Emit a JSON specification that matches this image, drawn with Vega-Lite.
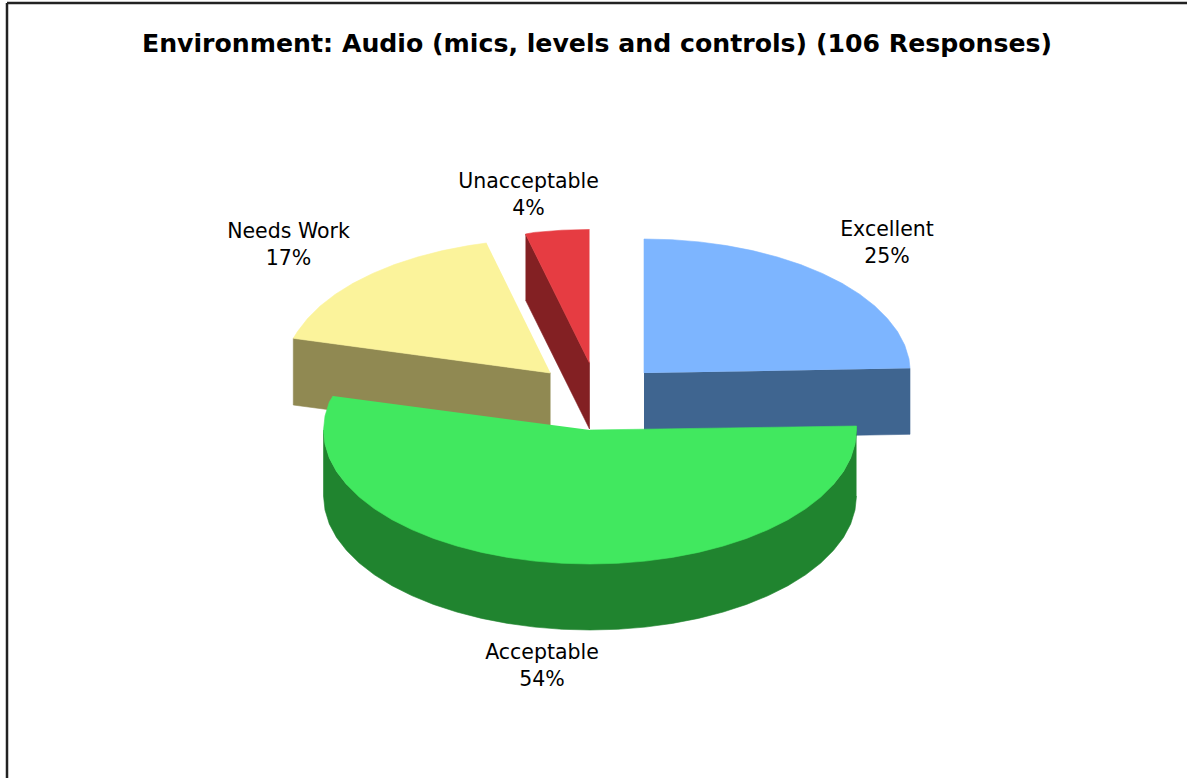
{
  "$schema": "https://vega.github.io/schema/vega-lite/v6.json",
  "width": 1187,
  "height": 778,
  "padding": 0,
  "autosize": "none",
  "background": "#ffffff",
  "view": {"stroke": null},
  "datasets": {
    "outlines": [
      {"face":"Excellent side","n":1,"x":54,"y":57},{"face":"Excellent side","n":2,"x":320,"y":61.7},{"face":"Excellent side","n":3,"x":320,"y":-4.3},{"face":"Excellent side","n":4,"x":54,"y":-9},

      {"face":"Excellent top","n":1,"x":54,"y":57},{"face":"Excellent top","n":2,"x":54,"y":191},{"face":"Excellent top","n":3,"x":81.9,"y":190.3},{"face":"Excellent top","n":4,"x":109.4,"y":188.1},{"face":"Excellent top","n":5,"x":136.4,"y":184.4},{"face":"Excellent top","n":6,"x":162.4,"y":179.4},{"face":"Excellent top","n":7,"x":187.3,"y":173},{"face":"Excellent top","n":8,"x":210.6,"y":165.4},{"face":"Excellent top","n":9,"x":232.3,"y":156.6},{"face":"Excellent top","n":10,"x":252,"y":146.7},{"face":"Excellent top","n":11,"x":269.6,"y":135.8},{"face":"Excellent top","n":12,"x":284.8,"y":124},{"face":"Excellent top","n":13,"x":297.4,"y":111.5},{"face":"Excellent top","n":14,"x":307.5,"y":98.4},{"face":"Excellent top","n":15,"x":314.7,"y":84.9},{"face":"Excellent top","n":16,"x":319,"y":71},{"face":"Excellent top","n":17,"x":320,"y":61.7},

      {"face":"Needs Work side","n":1,"x":-39.5,"y":57},{"face":"Needs Work side","n":2,"x":-296.7,"y":91.7},{"face":"Needs Work side","n":3,"x":-296.7,"y":25},{"face":"Needs Work side","n":4,"x":-39.5,"y":-9},

      {"face":"Needs Work top","n":1,"x":-39.5,"y":57},{"face":"Needs Work top","n":2,"x":-296.7,"y":91.7},{"face":"Needs Work top","n":3,"x":-292.5,"y":98.4},{"face":"Needs Work top","n":4,"x":-282.4,"y":111.5},{"face":"Needs Work top","n":5,"x":-269.8,"y":124},{"face":"Needs Work top","n":6,"x":-254.6,"y":135.8},{"face":"Needs Work top","n":7,"x":-237,"y":146.7},{"face":"Needs Work top","n":8,"x":-217.3,"y":156.6},{"face":"Needs Work top","n":9,"x":-195.6,"y":165.4},{"face":"Needs Work top","n":10,"x":-172.3,"y":173},{"face":"Needs Work top","n":11,"x":-147.4,"y":179.4},{"face":"Needs Work top","n":12,"x":-121.4,"y":184.4},{"face":"Needs Work top","n":13,"x":-103.5,"y":187},

      {"face":"Unacceptable side","n":1,"x":-64.5,"y":196},{"face":"Unacceptable side","n":2,"x":-0.5,"y":67},{"face":"Unacceptable side","n":3,"x":-0.5,"y":1},{"face":"Unacceptable side","n":4,"x":-64.5,"y":130},

      {"face":"Unacceptable top","n":1,"x":-0.5,"y":67},{"face":"Unacceptable top","n":2,"x":-64.5,"y":196},{"face":"Unacceptable top","n":3,"x":-55.4,"y":197.6},{"face":"Unacceptable top","n":4,"x":-27.9,"y":199.8},{"face":"Unacceptable top","n":5,"x":-0.5,"y":200.5},

      {"face":"Acceptable side","n":1,"x":266.5,"y":4},{"face":"Acceptable side","n":2,"x":266.5,"y":0},{"face":"Acceptable side","n":3,"x":265,"y":-14},{"face":"Acceptable side","n":4,"x":260.7,"y":-27.9},{"face":"Acceptable side","n":5,"x":253.5,"y":-41.4},{"face":"Acceptable side","n":6,"x":243.4,"y":-54.5},{"face":"Acceptable side","n":7,"x":-243.4,"y":-54.5},{"face":"Acceptable side","n":8,"x":-253.5,"y":-41.4},{"face":"Acceptable side","n":9,"x":-260.7,"y":-27.9},{"face":"Acceptable side","n":10,"x":-265,"y":-14},{"face":"Acceptable side","n":11,"x":-266.5,"y":0},
      {"face":"Acceptable side","n":12,"x":-266.5,"y":-66},{"face":"Acceptable side","n":13,"x":-265,"y":-80},{"face":"Acceptable side","n":14,"x":-260.7,"y":-93.9},{"face":"Acceptable side","n":15,"x":-253.5,"y":-107.4},{"face":"Acceptable side","n":16,"x":-243.4,"y":-120.5},{"face":"Acceptable side","n":17,"x":-230.8,"y":-133},{"face":"Acceptable side","n":18,"x":-215.6,"y":-144.8},{"face":"Acceptable side","n":19,"x":-198,"y":-155.7},{"face":"Acceptable side","n":20,"x":-178.3,"y":-165.6},{"face":"Acceptable side","n":21,"x":-156.6,"y":-174.4},{"face":"Acceptable side","n":22,"x":-133.3,"y":-182},{"face":"Acceptable side","n":23,"x":-108.4,"y":-188.4},{"face":"Acceptable side","n":24,"x":-82.4,"y":-193.4},{"face":"Acceptable side","n":25,"x":-55.4,"y":-197.1},{"face":"Acceptable side","n":26,"x":-27.9,"y":-199.3},{"face":"Acceptable side","n":27,"x":0,"y":-200},{"face":"Acceptable side","n":28,"x":27.9,"y":-199.3},{"face":"Acceptable side","n":29,"x":55.4,"y":-197.1},{"face":"Acceptable side","n":30,"x":82.4,"y":-193.4},{"face":"Acceptable side","n":31,"x":108.4,"y":-188.4},{"face":"Acceptable side","n":32,"x":133.3,"y":-182},{"face":"Acceptable side","n":33,"x":156.6,"y":-174.4},{"face":"Acceptable side","n":34,"x":178.3,"y":-165.6},{"face":"Acceptable side","n":35,"x":198,"y":-155.7},{"face":"Acceptable side","n":36,"x":215.6,"y":-144.8},{"face":"Acceptable side","n":37,"x":230.8,"y":-133},{"face":"Acceptable side","n":38,"x":243.4,"y":-120.5},{"face":"Acceptable side","n":39,"x":253.5,"y":-107.4},{"face":"Acceptable side","n":40,"x":260.7,"y":-93.9},{"face":"Acceptable side","n":41,"x":265,"y":-80},{"face":"Acceptable side","n":42,"x":266.5,"y":-66},

      {"face":"Acceptable top","n":1,"x":0,"y":0},{"face":"Acceptable top","n":2,"x":266.5,"y":4},{"face":"Acceptable top","n":3,"x":266.5,"y":0},{"face":"Acceptable top","n":4,"x":265,"y":-14},{"face":"Acceptable top","n":5,"x":260.7,"y":-27.9},{"face":"Acceptable top","n":6,"x":253.5,"y":-41.4},{"face":"Acceptable top","n":7,"x":243.4,"y":-54.5},{"face":"Acceptable top","n":8,"x":230.8,"y":-67},{"face":"Acceptable top","n":9,"x":215.6,"y":-78.8},{"face":"Acceptable top","n":10,"x":198,"y":-89.7},{"face":"Acceptable top","n":11,"x":178.3,"y":-99.6},{"face":"Acceptable top","n":12,"x":156.6,"y":-108.4},{"face":"Acceptable top","n":13,"x":133.3,"y":-116},{"face":"Acceptable top","n":14,"x":108.4,"y":-122.4},{"face":"Acceptable top","n":15,"x":82.4,"y":-127.4},{"face":"Acceptable top","n":16,"x":55.4,"y":-131.1},{"face":"Acceptable top","n":17,"x":27.9,"y":-133.3},{"face":"Acceptable top","n":18,"x":0,"y":-134},{"face":"Acceptable top","n":19,"x":-27.9,"y":-133.3},{"face":"Acceptable top","n":20,"x":-55.4,"y":-131.1},{"face":"Acceptable top","n":21,"x":-82.4,"y":-127.4},{"face":"Acceptable top","n":22,"x":-108.4,"y":-122.4},{"face":"Acceptable top","n":23,"x":-133.3,"y":-116},{"face":"Acceptable top","n":24,"x":-156.6,"y":-108.4},{"face":"Acceptable top","n":25,"x":-178.3,"y":-99.6},{"face":"Acceptable top","n":26,"x":-198,"y":-89.7},{"face":"Acceptable top","n":27,"x":-215.6,"y":-78.8},{"face":"Acceptable top","n":28,"x":-230.8,"y":-67},{"face":"Acceptable top","n":29,"x":-243.4,"y":-54.5},{"face":"Acceptable top","n":30,"x":-253.5,"y":-41.4},{"face":"Acceptable top","n":31,"x":-260.7,"y":-27.9},{"face":"Acceptable top","n":32,"x":-265,"y":-14},{"face":"Acceptable top","n":33,"x":-266.5,"y":0},{"face":"Acceptable top","n":34,"x":-265,"y":14},{"face":"Acceptable top","n":35,"x":-260.7,"y":27.9},{"face":"Acceptable top","n":36,"x":-257,"y":34}
    ],
    "labels": [
      {"label":"Excellent\n25%","x":297,"y":200},
      {"label":"Acceptable\n54%","x":-48,"y":-223},
      {"label":"Needs Work\n17%","x":-301.5,"y":198},
      {"label":"Unacceptable\n4%","x":-61.5,"y":248}
    ],
    "frame": [
      {"x":-583,"x2":597,"y":427},
      {"x":-583,"x2":-583,"y":427,"y2":-348}
    ]
  },
  "data": {"name": "outlines"},
  "layer": [
    {
      "mark": {"type": "line", "strokeWidth": 0.6, "interpolate": "linear"},
      "encoding": {
        "x": {"field": "x", "type": "quantitative", "scale": {"domain": [-590, 597]}, "axis": null},
        "y": {"field": "y", "type": "quantitative", "scale": {"domain": [-348, 430]}, "axis": null},
        "order": {"field": "n", "type": "quantitative"},
        "fill": {
          "field": "face", "type": "nominal", "legend": null,
          "scale": {
            "domain": ["Excellent side","Excellent top","Needs Work side","Needs Work top","Unacceptable side","Unacceptable top","Acceptable side","Acceptable top"],
            "range": ["#3F6590","#7DB5FF","#908952","#FBF39B","#832023","#E63C42","#20842F","#41E85F"]
          }
        },
        "color": {
          "field": "face", "type": "nominal", "legend": null,
          "scale": {
            "domain": ["Excellent side","Excellent top","Needs Work side","Needs Work top","Unacceptable side","Unacceptable top","Acceptable side","Acceptable top"],
            "range": ["#3F6590","#7DB5FF","#908952","#FBF39B","#832023","#E63C42","#20842F","#41E85F"]
          }
        }
      }
    },
    {
      "data": {"name": "labels"},
      "mark": {"type": "text", "font": "DejaVu Sans", "fontSize": 20.5, "color": "#000000", "lineBreak": "\n", "lineHeight": 27, "align": "center", "baseline": "middle"},
      "encoding": {
        "x": {"field": "x", "type": "quantitative", "scale": {"domain": [-590, 597]}, "axis": null},
        "y": {"field": "y", "type": "quantitative", "scale": {"domain": [-348, 430]}, "axis": null},
        "text": {"field": "label"}
      }
    },
    {
      "data": {"name": "frame"},
      "mark": {"type": "rule", "color": "#222222", "strokeWidth": 2.5},
      "encoding": {
        "x": {"field": "x", "type": "quantitative", "scale": {"domain": [-590, 597]}, "axis": null},
        "x2": {"field": "x2"},
        "y": {"field": "y", "type": "quantitative", "scale": {"domain": [-348, 430]}, "axis": null},
        "y2": {"field": "y2"}
      }
    },
    {
      "data": {"values": [{"title": "Environment: Audio (mics, levels and controls) (106 Responses)", "x": 7, "y": 386}]},
      "mark": {"type": "text", "font": "DejaVu Sans", "fontWeight": "bold", "fontSize": 25.2, "color": "#000000", "align": "center", "baseline": "middle"},
      "encoding": {
        "x": {"field": "x", "type": "quantitative", "scale": {"domain": [-590, 597]}, "axis": null},
        "y": {"field": "y", "type": "quantitative", "scale": {"domain": [-348, 430]}, "axis": null},
        "text": {"field": "title"}
      }
    }
  ]
}
